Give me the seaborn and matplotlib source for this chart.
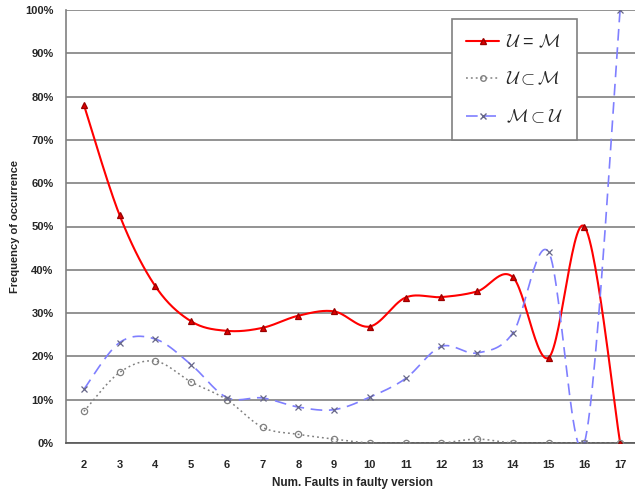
import numpy as np
import pandas as pd
import matplotlib
matplotlib.use("Agg")
import matplotlib.pyplot as plt
import seaborn as sns
from matplotlib.ticker import PercentFormatter
from matplotlib.lines import Line2D

faults = [2, 3, 4, 5, 6, 7, 8, 9, 10, 11, 12, 13, 14, 15, 16, 17]
u_eq_m = [78.1, 52.6, 36.2, 28.1, 25.9, 26.6, 29.4, 30.4, 26.9, 33.6, 33.7, 35.0, 38.3, 19.7, 50.0, 0.0]
u_sub_m = [7.3, 16.3, 18.9, 14.1, 10.0, 3.6, 2.0, 0.9, 0.0, 0.0, 0.0, 0.9, 0.0, 0.0, 0.0, 0.0]
m_sub_u = [12.4, 23.2, 24.0, 18.1, 10.5, 10.4, 8.3, 7.7, 10.6, 14.9, 22.3, 20.8, 25.4, 44.1, 0.0, 100.0]
labels = [r"$\mathcal{U}$ = $\mathcal{M}$", r"$\mathcal{U} \subset \mathcal{M}$", r"$\mathcal{M} \subset \mathcal{U}$"]

sns.set_style("white")
plt.rcParams['font.family'] = ['Liberation Sans', 'DejaVu Sans']
plt.rcParams['mathtext.fontset'] = 'cm'


def smooth(x, y, n=30):
    # Excel-style smoothed line: cubic Bezier segments with Catmull-Rom control points
    x = np.asarray(x, float)
    y = np.asarray(y, float)
    P = np.column_stack([x, y])
    out = []
    for i in range(len(P) - 1):
        p0 = P[i - 1] if i > 0 else P[i]
        p1 = P[i]
        p2 = P[i + 1]
        p3 = P[i + 2] if i + 2 < len(P) else P[i + 1]
        c1 = p1 + (p2 - p0) / 6.0
        c2 = p2 - (p3 - p1) / 6.0
        t = np.linspace(0, 1, n)[:, None]
        seg = ((1 - t) ** 3) * p1 + 3 * ((1 - t) ** 2) * t * c1 + 3 * (1 - t) * t ** 2 * c2 + t ** 3 * p2
        out.append(seg if i == 0 else seg[1:])
    s = np.vstack(out)
    return s[:, 0], s[:, 1]


fig = plt.figure(figsize=(6.35, 4.93), dpi=100)
ax = fig.add_axes([66 / 635, 50 / 493, 572 / 635, 433 / 493])

styles = [
    dict(data=u_eq_m, color="#ff0000", ls="-", lw=1.5, marker="^", mfc="#dd0000", mec="#990000", ms=5),
    dict(data=u_sub_m, color="#808080", ls=(0, (1.2, 2)), lw=1.1, marker="o", mfc="none", mec="#808080", ms=4.5),
    dict(data=m_sub_u, color="#7f7fff", ls=(0, (7, 4)), lw=1.2, marker="x", mfc="none", mec="#666688", ms=4.5),
]

for st, lab in zip(styles, labels):
    sx, sy = smooth(faults, st["data"])
    df = pd.DataFrame({"x": sx, "y": sy})
    sns.lineplot(data=df, x="x", y="y", sort=False, estimator=None, ax=ax,
                 color=st["color"], lw=st["lw"], linestyle=st["ls"], zorder=3)
    ax.plot(faults, st["data"], linestyle="none", marker=st["marker"], ms=st["ms"],
            mfc=st["mfc"], mec=st["mec"], mew=0.9, zorder=4)

handles = [Line2D([0], [0], color=st["color"], ls=st["ls"], lw=st["lw"], marker=st["marker"],
                  ms=st["ms"] - 0.5, mfc=st["mfc"], mec=st["mec"]) for st in styles]
leg = ax.legend(handles, labels, loc="upper left", bbox_to_anchor=(386 / 572, 1 - 9 / 433),
                borderaxespad=0, frameon=True, fancybox=False, edgecolor="#808080", framealpha=1,
                fontsize=13, labelspacing=1.1, handlelength=1.8, borderpad=0.8, handletextpad=0.4)
leg.get_frame().set_linewidth(1.2)

ax.set_xlim(1.5, 17.5)
ax.set_ylim(0, 100)
ax.set_yticks(np.arange(0, 101, 10))
ax.yaxis.set_major_formatter(PercentFormatter(decimals=0))
ax.set_xticks(faults)
ax.set_xticks(np.arange(1.5, 17.6, 1), minor=True)
ax.tick_params(axis="x", which="major", length=0, pad=12, labelsize=8)
ax.tick_params(axis="x", which="minor", length=4, width=1, color="#555555", direction="out")
ax.tick_params(axis="y", length=4, width=1, color="#555555", labelsize=8, pad=5, direction="out")
for t in ax.get_xticklabels() + ax.get_yticklabels():
    t.set_fontweight("bold")

ax.grid(axis="y", color="#808080", lw=1.2)
ax.set_axisbelow(True)
for s in ["top", "right"]:
    ax.spines[s].set_visible(False)
ax.spines["left"].set_color("#808080")
ax.spines["left"].set_linewidth(1.2)
ax.spines["bottom"].set_color("#555555")
ax.spines["bottom"].set_linewidth(1.2)

ax.set_xlabel("Num. Faults in faulty version", fontsize=8.5, fontweight="bold", labelpad=5.5)
ax.set_ylabel("Frequency of occurrence", fontsize=8, fontweight="bold", labelpad=3.5)

fig.savefig("out.png", dpi=100)
